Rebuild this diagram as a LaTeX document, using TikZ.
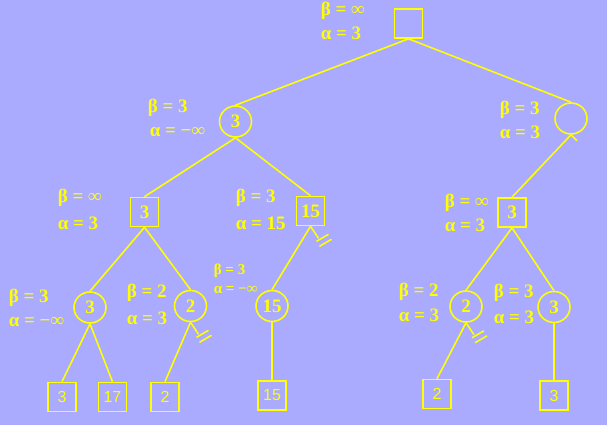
\documentclass[tikz,border=0pt]{standalone}
\usepackage{fontspec}
\setmainfont{Liberation Serif}
\newfontfamily\leaffont{Liberation Sans}
\usetikzlibrary{shapes.geometric}
\definecolor{bgc}{RGB}{170,170,255}
\definecolor{yel}{RGB}{255,255,0}
\tikzset{
  every path/.style={line width=1.6pt},
  bx/.style={draw=yel, text=yel, rectangle, minimum width=28pt, minimum height=29pt, inner sep=0pt, font=\fontsize{19}{22}\selectfont\bfseries},
  cr/.style={draw=yel, text=yel, ellipse, minimum width=32pt, minimum height=31pt, inner sep=0pt, font=\fontsize{19}{22}\selectfont\bfseries},
  lf/.style={draw=yel, text=yel, rectangle, minimum width=28pt, minimum height=29pt, inner sep=0pt, font=\fontsize{16}{18}\selectfont\leaffont},
  lab/.style={text=yel, anchor=west, inner sep=0pt, font=\fontsize{19}{22}\selectfont\bfseries},
  slab/.style={text=yel, anchor=west, inner sep=0pt, font=\fontsize{15}{18}\selectfont\bfseries},
  edge/.style={draw=yel},
}
\newcommand{\cutmark}[1]{%
  \draw[edge] (#1.south) -- ++(8,12);
  \draw[edge] ([shift={(6,15)}]#1.south) -- ++(12,-7);
  \draw[edge] ([shift={(9,20)}]#1.south) -- ++(12,-7);
}
\begin{document}
\begin{tikzpicture}[x=1pt,y=-1pt]
\fill[bgc] (0,0) rectangle (607,425);
\useasboundingbox (0,0) rectangle (607,425);
% nodes
\node[bx] (root) at (408.5,23.5) {};
\node[cr] (a) at (235.5,121.5) {3};
\node[cr] (b) at (571,118.5) {};
\node[bx] (a1) at (144.5,212) {3};
\node[bx] (a2) at (310.5,211) {15};
\node[bx] (b1) at (512,212.5) {3};
\node[cr] (a11) at (90,307.5) {3};
\node[cr] (a12) at (190.5,306) {2};
\node[cr] (a21) at (272,306) {15};
\node[cr] (b11) at (466,306.5) {2};
\node[cr] (b12) at (554,307) {3};
\node[lf] (l1) at (62,397) {3};
\node[lf] (l2) at (112.5,397) {17};
\node[lf] (l3) at (165,397) {2};
\node[lf] (l4) at (272,395.5) {15};
\node[lf] (l5) at (437,394) {2};
\node[lf] (l6) at (554,395.5) {3};
% edges
\draw[edge] (root.south) -- (a.north);
\draw[edge] (root.south) -- (b.north);
\draw[edge] (a.south) -- (a1.north);
\draw[edge] (a.south) -- (a2.north);
\draw[edge] (b.south) -- (b1.north);
\draw[edge] (b.south) -- ++(6,6);
\draw[edge] (a1.south) -- (a11.north);
\draw[edge] (a1.south) -- (a12.north);
\draw[edge] (a2.south) -- (a21.north);
\draw[edge] (b1.south) -- (b11.north);
\draw[edge] (b1.south) -- (b12.north);
\draw[edge] (a11.south) -- (l1.north);
\draw[edge] (a11.south) -- (l2.north);
\draw[edge] (a12.south) -- (l3.north);
\draw[edge] (a21.south) -- (l4.north);
\draw[edge] (b11.south) -- (l5.north);
\draw[edge] (b12.south) -- (l6.north);
\cutmark{a2}
\cutmark{a12}
\cutmark{b11}
% labels
\node[lab] (rB) at (320,11) {β = ∞};
\node[lab] (rA) at (320,33) {α = 3};
\node[lab] (aB) at (147,108) {β = 3};
\node[lab] (aA) at (149,132) {α = −∞};
\node[lab] (bB) at (499,110) {β = 3};
\node[lab] (bA) at (499,132) {α = 3};
\node[lab] (a1B) at (57,198) {β = ∞};
\node[lab] (a1A) at (57,223) {α = 3};
\node[lab] (a2B) at (235,198) {β = 3};
\node[lab] (a2A) at (235,223) {α = 15};
\node[lab] (b1B) at (444,203) {β = ∞};
\node[lab] (b1A) at (444,225) {α = 3};
\node[lab] (a11B) at (8,298) {β = 3};
\node[lab] (a11A) at (8,322) {α = −∞};
\node[lab] (a12B) at (126,293) {β = 2};
\node[lab] (a12A) at (126,318) {α = 3};
\node[slab] (a21B) at (213,271) {β = 3};
\node[slab] (a21A) at (213,290) {α = −∞};
\node[lab] (b11B) at (398,292) {β = 2};
\node[lab] (b11A) at (398,315) {α = 3};
\node[lab] (b12B) at (493,293) {β = 3};
\node[lab] (b12A) at (493,317) {α = 3};
\end{tikzpicture}
\end{document}
